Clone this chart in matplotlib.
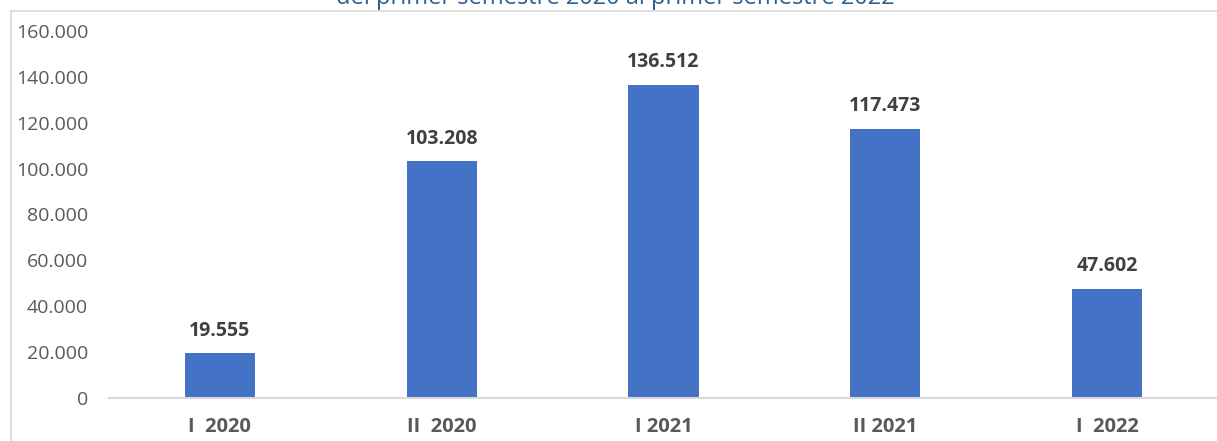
import matplotlib.pyplot as plt
from matplotlib.lines import Line2D
from matplotlib.ticker import FuncFormatter

# datos
semestres = ['I  2020', 'II  2020', 'I 2021', 'II 2021', 'I  2022']
valores = [19555, 103208, 136512, 117473, 47602]
titulo = 'del primer semestre 2020 al primer semestre 2022'


def miles(v, pos=None):
    return f'{int(v):,}'.replace(',', '.')


plt.rcParams['font.family'] = ['Open Sans', 'DejaVu Sans']

fig = plt.figure(figsize=(12.17, 4.41), dpi=100)
W, H = 1217, 441
ax = fig.add_axes([109 / W, 1 - 398 / H, (1218 - 109) / W, (398 - 31) / H])

x = range(len(semestres))
bars = ax.bar(x, valores, width=0.316, color='#4472C4')

for b, v in zip(bars, valores):
    ax.annotate(miles(v), (b.get_x() + b.get_width() / 2, v),
                xytext=(0, 9), textcoords='offset points',
                ha='center', va='bottom', fontsize=14, fontweight='bold',
                color='#404040')

ax.set_xlim(-0.5, len(semestres) - 0.5)
ax.set_ylim(0, 160000)
ax.set_yticks(range(0, 160001, 20000))
ax.yaxis.set_major_formatter(FuncFormatter(miles))
ax.set_xticks(list(x))
ax.set_xticklabels(semestres, fontweight='bold')

ax.tick_params(axis='y', length=0, pad=15, labelsize=14, labelcolor='#595959')
ax.tick_params(axis='x', length=0, pad=14, labelsize=14.5, labelcolor='#595959')

for s in ['top', 'right', 'left']:
    ax.spines[s].set_visible(False)
ax.spines['bottom'].set_color('#D9D9D9')
ax.spines['bottom'].set_linewidth(1.5)

# marco del gráfico
fig.add_artist(Line2D([10.5 / W, 10.5 / W], [0, 1 - 10.5 / H],
                      transform=fig.transFigure, color='#D9D9D9', lw=1.2))
fig.add_artist(Line2D([10.5 / W, 1], [1 - 10.5 / H, 1 - 10.5 / H],
                      transform=fig.transFigure, color='#D9D9D9', lw=1.2))

# título (cortado en la parte superior)
fig.text(615 / W, 1 - 4 / H, titulo, ha='center', va='baseline',
         fontsize=17, color='#2E5F93')

fig.savefig('out.png', dpi=100)
